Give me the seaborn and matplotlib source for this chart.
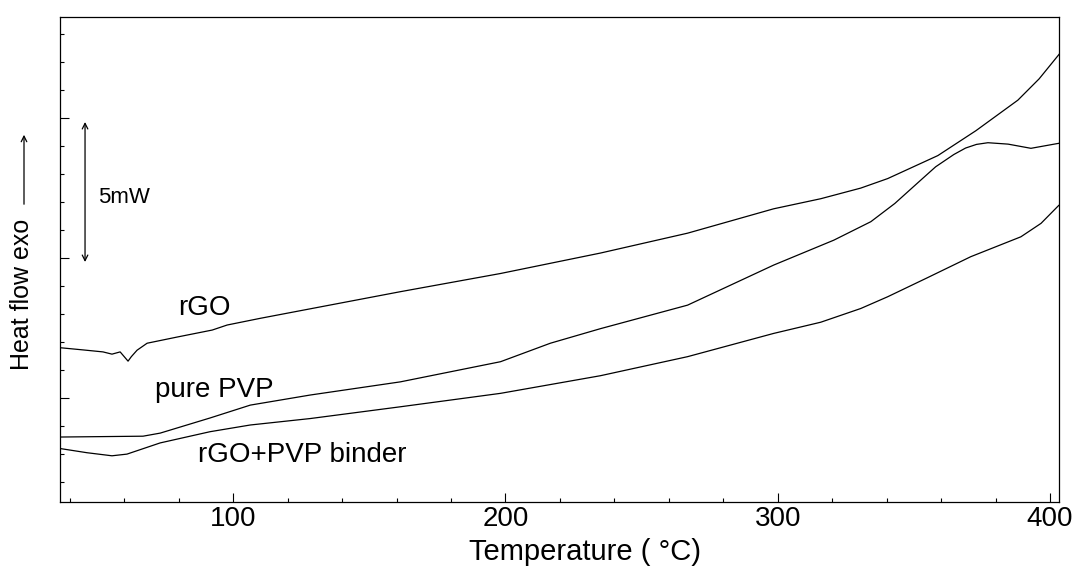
import numpy as np
import pandas as pd
import matplotlib
matplotlib.use("Agg")
import matplotlib.pyplot as plt
from matplotlib.ticker import MultipleLocator
import seaborn as sns

# curves (temperature in degC, heat flow in mW, arbitrary offset)
rgo_t = [36.4, 45.0, 52.2, 55.5, 58.5, 61.4, 62.6, 64.7, 68.4, 79.4, 92.3, 97.8, 110.0,
         124.6, 161.4, 198.2, 234.9, 266.9, 298.5, 315.8, 330.5, 340.4, 358.8, 372.8,
         388.2, 396.0, 403.7]
rgo_q = [1.80, 1.72, 1.65, 1.57, 1.65, 1.32, 1.48, 1.71, 1.96, 2.18, 2.43, 2.61, 2.85,
         3.12, 3.80, 4.45, 5.18, 5.89, 6.76, 7.12, 7.50, 7.84, 8.66, 9.55, 10.64, 11.40,
         12.32]

pvp_t = [36.4, 66.9, 73.2, 91.5, 106.3, 128.3, 161.4, 198.2, 216.5, 234.9, 266.9, 298.5,
         320.6, 334.2, 343.0, 352.6, 358.0, 364.7, 369.0, 373.0, 377.2, 384.6, 393.0,
         403.3]
pvp_q = [-1.39, -1.36, -1.25, -0.71, -0.25, 0.11, 0.58, 1.30, 1.96, 2.48, 3.32, 4.75,
         5.64, 6.30, 6.95, 7.79, 8.26, 8.70, 8.93, 9.06, 9.12, 9.07, 8.92, 9.10]

bind_t = [36.4, 46.3, 55.5, 61.0, 73.2, 91.5, 106.3, 128.3, 161.4, 198.2, 234.9, 266.9,
          298.5, 315.8, 330.5, 340.4, 355.0, 370.9, 389.3, 396.7, 403.3]
bind_q = [-1.80, -1.95, -2.06, -2.00, -1.60, -1.20, -0.96, -0.73, -0.31, 0.17, 0.80, 1.48,
          2.31, 2.71, 3.20, 3.62, 4.30, 5.05, 5.76, 6.24, 6.89]

x_ticks = [100, 200, 300, 400]

sns.set_style("ticks")
plt.rcParams['font.family'] = ['Liberation Sans', 'DejaVu Sans']
plt.rcParams['text.color'] = 'black'
plt.rcParams['axes.labelcolor'] = 'black'

fig = plt.figure(figsize=(10.75, 5.7), dpi=100)
ax = fig.add_axes([0.0558, 0.1193, 0.9293, 0.8509])

for t, q in [(rgo_t, rgo_q), (pvp_t, pvp_q), (bind_t, bind_q)]:
    df = pd.DataFrame({'T': t, 'Q': q})
    sns.lineplot(data=df, x='T', y='Q', ax=ax, color='black', linewidth=0.9)

ax.set_xlim(36.4, 403.3)
ax.set_ylim(-3.71, 13.61)
ax.set_xticks(x_ticks)
ax.xaxis.set_minor_locator(MultipleLocator(20))
ax.yaxis.set_major_locator(MultipleLocator(5))
ax.yaxis.set_minor_locator(MultipleLocator(1))
ax.set_yticklabels([])
ax.tick_params(which='both', direction='in', top=False, right=False, colors='black')
ax.tick_params(which='major', length=6.5, width=0.8, labelsize=20, pad=3)
ax.tick_params(which='minor', length=3, width=0.8)
for s in ax.spines.values():
    s.set_linewidth(0.9)
    s.set_color('black')

ax.set_ylabel('')
ax.set_xlabel('Temperature ( °C)', fontsize=21, color='black')
ax.xaxis.set_label_coords(0.5255, -0.075)

# curve labels
ax.text(79.8, 2.96, 'rGO', fontsize=20, color='black')
ax.text(71.3, 0.05, 'pure PVP', fontsize=20, color='black')
ax.text(87.1, -2.27, 'rGO+PVP binder', fontsize=20, color='black')

# 5 mW scale bar
ax.annotate('', xy=(45.6, 9.86), xytext=(45.6, 4.86),
            arrowprops=dict(arrowstyle='<->', color='black', lw=0.9,
                            shrinkA=0, shrinkB=0, mutation_scale=10))
ax.text(50.4, 6.96, '5mW', fontsize=16, color='black')

# y label with arrow
fig.text(22 / 1075, 1 - 294 / 570, 'Heat flow exo', rotation=90, fontsize=18,
         ha='center', va='center', color='black')
fig.add_artist(matplotlib.patches.FancyArrowPatch(
    (24 / 1075, 1 - 207 / 570), (24 / 1075, 1 - 132 / 570),
    transform=fig.transFigure, arrowstyle='->', color='black', lw=0.9,
    mutation_scale=10))

fig.savefig('out.png', dpi=100)
